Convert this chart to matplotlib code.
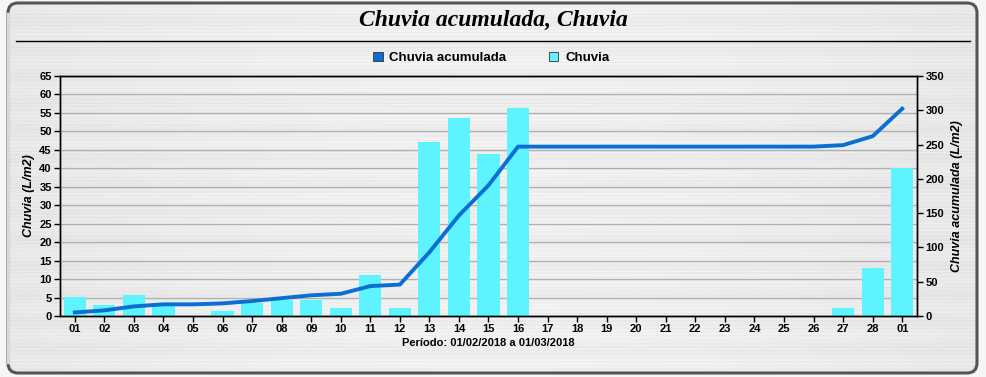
import numpy as np
import matplotlib.pyplot as plt
from matplotlib.patches import FancyBboxPatch, Patch

# data
days = ['01', '02', '03', '04', '05', '06', '07', '08', '09', '10', '11', '12', '13', '14',
        '15', '16', '17', '18', '19', '20', '21', '22', '23', '24', '25', '26', '27', '28', '01']
chuva = [5.2, 3.0, 5.8, 3.0, 0.0, 1.4, 3.4, 4.2, 4.2, 2.2, 11.2, 2.2, 47.2, 53.7,
         43.9, 56.4, 0, 0, 0, 0, 0, 0, 0, 0, 0, 0, 2.2, 13.0, 40.1]
acumulada = [5.2, 8.2, 14.0, 17.0, 17.0, 18.4, 21.8, 26.0, 30.2, 32.4, 43.6, 45.8, 93.0, 146.7,
             190.6, 247.0, 247.0, 247.0, 247.0, 247.0, 247.0, 247.0, 247.0, 247.0, 247.0, 247.0,
             249.2, 262.2, 302.3]

W, H = 987, 377
fig = plt.figure(figsize=(W / 100, H / 100), dpi=100)
fig.patch.set_facecolor('#f6f6f6')

# panel with brushed look
bg = fig.add_axes([0, 0, 1, 1], zorder=-10)
bg.set_xlim(0, W)
bg.set_ylim(H, 0)
bg.axis('off')
yy = np.arange(H)
streak = (0.905 + 0.012 * np.sin(yy * 1.7) + 0.012 * np.sin(yy * 2.9 + 1.0)
          + 0.01 * np.sin(yy * 0.23))
xx = np.linspace(0, 1, W)
shade = 1 + 0.035 * np.cos((xx - 0.5) * np.pi)
tex = np.clip(streak[:, None] * shade[None, :], 0, 1)
panel = FancyBboxPatch((8, 3), 969, 370, boxstyle='round,pad=0,rounding_size=10',
                       facecolor='none', edgecolor='#555555', lw=2.2, zorder=3)
bg.add_patch(panel)
im = bg.imshow(tex, cmap='gray', vmin=0, vmax=1, extent=(0, W, H, 0), aspect='auto', zorder=1)
im.set_clip_path(panel)
bg.plot([7.5, 7.5], [14, 362], color='#d8d8d8', lw=2.5, zorder=4)
bg.plot([16, 970], [41, 41], color='black', lw=1, zorder=4)

fig.text(493 / W, 1 - 20 / H, 'Chuvia acumulada, Chuvia', ha='center', va='center',
         family='Liberation Serif', fontsize=17, fontweight='bold', style='italic')

# main axes
left, right, top, bottom = 60, 917, 76, 316
ax = fig.add_axes([left / W, 1 - bottom / H, (right - left) / W, (bottom - top) / H])
ax.patch.set_alpha(0)
x = np.arange(len(days))
ax.bar(x, chuva, width=0.75, color='#5ef4ff', zorder=2)
ax.set_xlim(-0.5, len(days) - 0.5)
ax.set_ylim(0, 65)
ax.set_yticks(np.arange(0, 66, 5))
ax.set_xticks(x)
ax.set_xticklabels(days)
ax.grid(axis='y', color='#b0b0b0', lw=1, zorder=0)
ax.set_axisbelow(True)

ax2 = ax.twinx()
ax2.plot(x, acumulada, color='#0a6fd2', lw=2.8, zorder=3)
ax2.set_ylim(0, 350)
ax2.set_yticks(np.arange(0, 351, 50))

for a in (ax, ax2):
    for s in a.spines.values():
        s.set_color('black')
        s.set_linewidth(1)
    a.tick_params(length=4, width=1, pad=2, colors='black')
    for lab in a.get_xticklabels() + a.get_yticklabels():
        lab.set_family('Liberation Sans')
        lab.set_fontsize(8)
        lab.set_fontweight('bold')

ax.set_ylabel('Chuvia (L/m2)', family='Liberation Sans', fontsize=9, fontweight='bold',
              style='italic', labelpad=3)
ax2.set_ylabel('Chuvia acumulada (L/m2)', family='Liberation Sans', fontsize=9,
               fontweight='bold', style='italic', labelpad=5)
ax.set_xlabel('Período: 01/02/2018 a 01/03/2018', family='Liberation Sans', fontsize=8,
              fontweight='bold', labelpad=3)

handles = [Patch(facecolor='#0a6fd2', edgecolor='#333333', lw=0.6, label='Chuvia acumulada'),
           Patch(facecolor='#5ef4ff', edgecolor='#333333', lw=0.6, label='Chuvia')]
fig.legend(handles=handles, loc='center', bbox_to_anchor=(491 / W, 1 - 58 / H), ncol=2,
           frameon=False, handlelength=0.75, handleheight=0.75, handletextpad=0.5,
           columnspacing=3.2, prop=dict(family='Liberation Sans', size=9.5, weight='bold'))

fig.savefig('out.png', dpi=100)
